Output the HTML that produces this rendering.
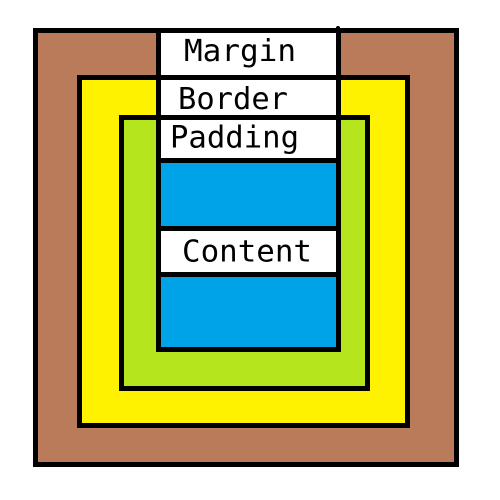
<!DOCTYPE html>
<html><head><meta charset="utf-8"><style>html,body{margin:0;padding:0;background:#fff;width:500px;height:500px;overflow:hidden}</style></head>
<body>
<svg width="500" height="500" viewBox="0 0 500 500" style="display:block">
<rect x="35.5" y="30.5" width="421" height="434" fill="#b97b59" stroke="#000" stroke-width="5"/>
<rect x="79.5" y="77.5" width="328" height="348" fill="#fff200" stroke="#000" stroke-width="5"/>
<rect x="121.5" y="117.5" width="246" height="271" fill="#b5e61d" stroke="#000" stroke-width="5"/>
<rect x="158.5" y="30.5" width="180" height="130" fill="#fff" stroke="#000" stroke-width="5"/>
<rect x="158.5" y="160.5" width="180" height="189" fill="#00a2e8" stroke="#000" stroke-width="5"/>
<line x1="156" y1="77.5" x2="341" y2="77.5" stroke="#000" stroke-width="5"/>
<line x1="156" y1="117.5" x2="341" y2="117.5" stroke="#000" stroke-width="5"/>
<rect x="158.5" y="228.5" width="180" height="46" fill="#fff" stroke="#000" stroke-width="5"/>
<circle cx="338" cy="28" r="2" fill="#000"/>
<g font-family="'DejaVu Sans Mono','Liberation Mono',monospace" font-size="30" fill="#000">
<text x="184" y="61" textLength="112" lengthAdjust="spacingAndGlyphs">Margin</text>
<text x="178" y="109" textLength="110" lengthAdjust="spacingAndGlyphs">Border</text>
<text x="170" y="147.5" textLength="129" lengthAdjust="spacingAndGlyphs">Padding</text>
<text x="182" y="261.5" textLength="130" lengthAdjust="spacingAndGlyphs">Content</text>
</g>
</svg>
</body></html>
